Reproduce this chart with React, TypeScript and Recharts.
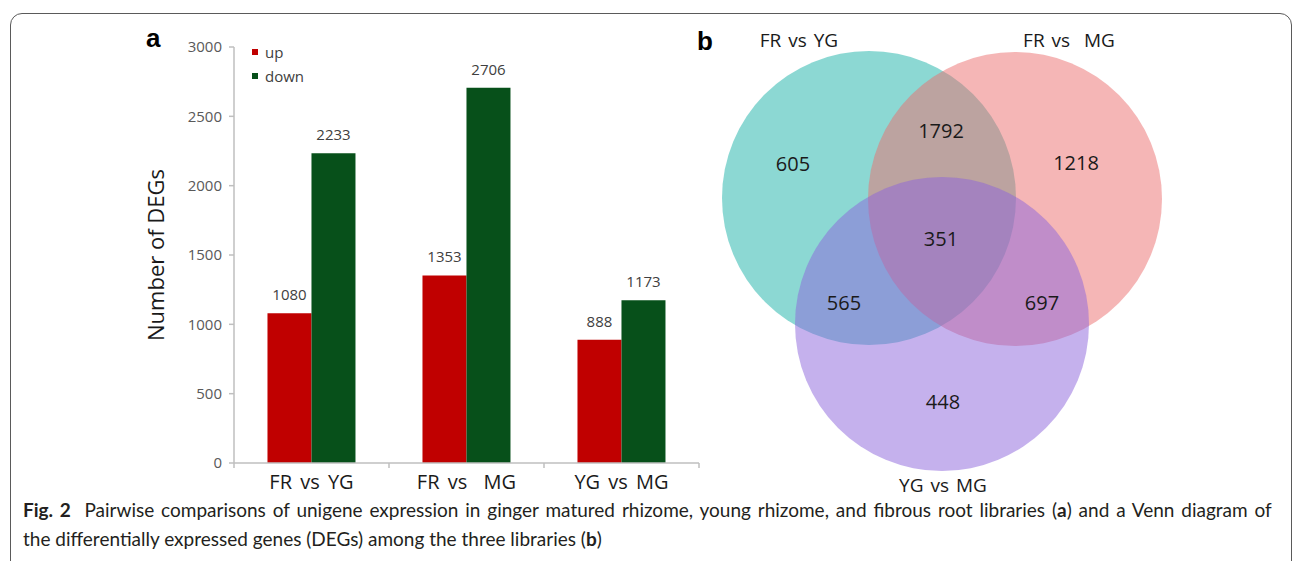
import React from 'react';
import { BarChart, Bar, XAxis, YAxis, LabelList, Legend, ScatterChart, Scatter } from 'recharts';

// ---------- data ----------
const categories = ['FR vs YG', 'FR vs \u00a0MG', 'YG vs MG'];
const seriesNames = ['up', 'down'];
const upValues = [1080, 1353, 888];
const downValues = [2233, 2706, 1173];
const yTicks = [0, 500, 1000, 1500, 2000, 2500, 3000];

const vennSetNames = ['FR vs YG', 'FR vs \u00a0MG', 'YG vs MG'];
const vennRegionLabels = ['605', '1792', '1218', '351', '565', '697', '448'];

// ---------- layout (not data) ----------
const VENN_LEFT = 690;
const VENN_W = 602;
const VENN_H = 561;
const vennCircleGeom = [
  { x: 179, y: 198, r: 147, fill: 'rgb(26,178,168)' },
  { x: 325, y: 199, r: 147, fill: 'rgb(235,110,110)' },
  { x: 252, y: 324, r: 147, fill: 'rgb(140,100,220)' },
];
const vennSetLabelPos = [
  { x: 109, y: 40 },
  { x: 379, y: 40 },
  { x: 253, y: 485 },
];
const vennRegionPos = [
  { x: 103, y: 163 },
  { x: 251, y: 130 },
  { x: 386, y: 162 },
  { x: 251, y: 238 },
  { x: 154, y: 302 },
  { x: 352, y: 302 },
  { x: 253, y: 401 },
];

const barData = categories.map((c, i) => ({ name: c, up: upValues[i], down: downValues[i] }));
const circleData = vennCircleGeom.map((g, i) => ({ ...g, name: vennSetNames[i] }));
const setLabelData = vennSetLabelPos.map((p, i) => ({ ...p, label: vennSetNames[i] }));
const regionData = vennRegionPos.map((p, i) => ({ ...p, label: vennRegionLabels[i] }));

const CHART_FONT = '"Open Sans", "Noto Sans", sans-serif';
const BAR_W = 720;
const BAR_H = 520;
const PLOT_LEFT = 234;
const PLOT_RIGHT = 699;
const PLOT_TOP = 47;
const PLOT_BOTTOM = 463;
const X_AXIS_H = 40;
const BAND = (PLOT_RIGHT - PLOT_LEFT) / categories.length;

const CategoryTick = (props: any) => {
  const { x, y, payload, index } = props;
  const last = index === categories.length - 1;
  return (
    <g>
      <line x1={x - BAND / 2} y1={y} x2={x - BAND / 2} y2={y + 5} stroke="#bfbfbf" strokeWidth={1.5} />
      {last && <line x1={x + BAND / 2} y1={y} x2={x + BAND / 2} y2={y + 5} stroke="#bfbfbf" strokeWidth={1.5} />}
      <text x={x} y={y + 26} textAnchor="middle" fontFamily={CHART_FONT} fontSize={20} fill="#1a1a1a" style={{ wordSpacing: 3 }}>
        {payload.value}
      </text>
    </g>
  );
};

const LegendContent = (props: any) => {
  const { payload } = props;
  const items = [...(payload || [])].sort(
    (a: any, b: any) => seriesNames.indexOf(a.value) - seriesNames.indexOf(b.value)
  );
  return (
    <div style={{ fontFamily: CHART_FONT, fontSize: 15, color: '#404040' }}>
      {items.map((p: any) => (
        <div key={p.value} style={{ display: 'flex', alignItems: 'center', height: 24 }}>
          <span style={{ width: 6, height: 6, background: p.color, display: 'inline-block', marginRight: 7 }} />
          <span>{p.value}</span>
        </div>
      ))}
    </div>
  );
};

const CircleShape = (props: any) => {
  const { cx, cy, payload } = props;
  return <circle cx={cx} cy={cy} r={payload.r} fill={payload.fill} fillOpacity={0.5} />;
};

const TextShape = (size: number, spacing: number) => (props: any) => {
  const { cx, cy, payload } = props;
  return (
    <text x={cx} y={cy} textAnchor="middle" dominantBaseline="central" fontFamily={CHART_FONT} fontSize={size} fill="#1a1a1a" style={{ wordSpacing: spacing }}>
      {payload.label}
    </text>
  );
};

export default function App() {
  return (
    <div style={{ position: 'absolute', left: 0, top: 0, width: 1292, height: 561, overflow: 'hidden', background: '#fff' }}>
      {/* figure frame */}
      <div
        style={{
          position: 'absolute',
          left: 10,
          top: 13,
          width: 1282,
          height: 600,
          border: '1.5px solid #5a5a5a',
          borderRadius: '12px 12px 0 0',
          boxSizing: 'border-box',
        }}
      />
      <div style={{ position: 'absolute', left: 146, top: 23, fontFamily: '"Liberation Sans", Arial, sans-serif', fontWeight: 'bold', fontSize: 26 }}>a</div>
      <div style={{ position: 'absolute', left: 697, top: 26, fontFamily: '"Liberation Sans", Arial, sans-serif', fontWeight: 'bold', fontSize: 26 }}>b</div>

      <div style={{ position: 'absolute', left: 0, top: 0 }}>
        <BarChart
          width={BAR_W}
          height={BAR_H}
          data={barData}
          margin={{ top: PLOT_TOP, right: BAR_W - PLOT_RIGHT, left: 0, bottom: BAR_H - PLOT_BOTTOM - X_AXIS_H }}
          barCategoryGap="21.6%"
          barGap={0}
        >
          <XAxis
            dataKey="name"
            height={X_AXIS_H}
            stroke="#bfbfbf"
            strokeWidth={1.5}
            tickLine={false}
            tickSize={0}
            tickMargin={0}
            tick={<CategoryTick />}
            interval={0}
          />
          <YAxis
            width={PLOT_LEFT}
            domain={[0, 3000]}
            ticks={yTicks}
            interval={0}
            stroke="#bfbfbf"
            strokeWidth={1.5}
            tickSize={5}
            tickMargin={7}
            tick={{ fill: '#595959', fontSize: 15, fontFamily: CHART_FONT }}
            label={{
              value: 'Number of DEGs',
              angle: -90,
              position: 'insideLeft',
              offset: 156,
              style: { textAnchor: 'middle', fontSize: 22, fontFamily: CHART_FONT, fill: '#1a1a1a' },
            }}
          />
          <Legend
            layout="vertical"
            align="center"
            verticalAlign="middle"
            content={<LegendContent />}
            wrapperStyle={{ left: 252, top: 40, width: 80 }}
          />
          <Bar dataKey="up" name={seriesNames[0]} fill="#c00000" isAnimationActive={false}>
            <LabelList dataKey="up" position="top" offset={13} style={{ fontSize: 15, fontFamily: CHART_FONT, fill: '#404040' }} />
          </Bar>
          <Bar dataKey="down" name={seriesNames[1]} fill="#07501a" isAnimationActive={false}>
            <LabelList dataKey="down" position="top" offset={13} style={{ fontSize: 15, fontFamily: CHART_FONT, fill: '#404040' }} />
          </Bar>
        </BarChart>
      </div>

      <div style={{ position: 'absolute', left: VENN_LEFT, top: 0 }}>
        <ScatterChart width={VENN_W} height={VENN_H} margin={{ top: 0, right: 0, bottom: 0, left: 0 }}>
          <XAxis type="number" dataKey="x" domain={[0, VENN_W]} hide />
          <YAxis type="number" dataKey="y" domain={[0, VENN_H]} reversed hide />
          <Scatter data={circleData} shape={CircleShape} isAnimationActive={false} />
          <Scatter data={setLabelData} shape={TextShape(19, 2)} isAnimationActive={false} />
          <Scatter data={regionData} shape={TextShape(20, 0)} isAnimationActive={false} />
        </ScatterChart>
      </div>

      <div
        style={{
          position: 'absolute',
          left: 23,
          top: 495,
          fontFamily: 'Lato, "Open Sans", sans-serif',
          fontSize: 19,
          lineHeight: '29px',
          color: '#231f20',
          whiteSpace: 'nowrap',
        }}
      >
        <span style={{ wordSpacing: 2 }}>
          <b>Fig. 2</b>&nbsp; Pairwise comparisons of unigene expression in ginger matured rhizome, young rhizome, and fibrous root libraries (<b>a</b>) and a Venn diagram of
        </span>
        <br />
        the differentially expressed genes (DEGs) among the three libraries (<b>b</b>)
      </div>
    </div>
  );
}
